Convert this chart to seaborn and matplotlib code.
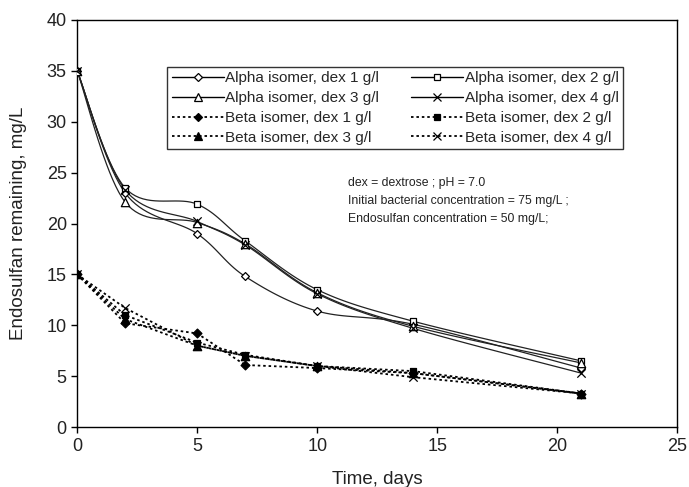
#recreate endosulfan degradation chart (alpha / beta isomer, dextrose levels)
import numpy as np
import pandas as pd
import seaborn as sns
import matplotlib.pyplot as plt
from matplotlib.lines import Line2D

days = [0, 2, 5, 7, 10, 14, 21]

alpha_dex1 = [35, 23.0, 19.0, 14.8, 11.4, 10.1, 5.8]
alpha_dex2 = [35, 23.5, 21.9, 18.3, 13.5, 10.4, 6.5]
alpha_dex3 = [35, 22.1, 20.1, 18.0, 13.2, 9.9, 6.3]
alpha_dex4 = [35, 23.3, 20.2, 17.9, 13.1, 9.7, 5.3]

beta_dex1 = [15, 10.2, 9.2, 6.1, 5.8, 5.3, 3.3]
beta_dex2 = [15, 11.0, 8.3, 7.1, 6.0, 5.5, 3.3]
beta_dex3 = [15, 10.6, 8.0, 7.0, 6.0, 5.3, 3.3]
beta_dex4 = [15, 11.7, 8.0, 7.0, 6.0, 4.9, 3.3]

series = [
    ("Alpha isomer, dex 1 g/l", alpha_dex1),
    ("Alpha isomer, dex 2 g/l", alpha_dex2),
    ("Alpha isomer, dex 3 g/l", alpha_dex3),
    ("Alpha isomer, dex 4 g/l", alpha_dex4),
    ("Beta isomer, dex 1 g/l", beta_dex1),
    ("Beta isomer, dex 2 g/l", beta_dex2),
    ("Beta isomer, dex 3 g/l", beta_dex3),
    ("Beta isomer, dex 4 g/l", beta_dex4),
]

notes = ["dex = dextrose ; pH = 7.0",
         "Initial bacterial concentration = 75 mg/L ;",
         "Endosulfan concentration = 50 mg/L;"]

rows = []
for name, vals in series:
    for d, v in zip(days, vals):
        rows.append({"series": name, "day": d, "value": v})
df = pd.DataFrame(rows)

# marker styles: (marker, facecolor, size)
styles = {
    "Alpha isomer, dex 1 g/l": ("D", "white", 4),
    "Alpha isomer, dex 2 g/l": ("s", "white", 5),
    "Alpha isomer, dex 3 g/l": ("^", "white", 6),
    "Alpha isomer, dex 4 g/l": ("x", "black", 6),
    "Beta isomer, dex 1 g/l": ("D", "black", 4.5),
    "Beta isomer, dex 2 g/l": ("s", "black", 5),
    "Beta isomer, dex 3 g/l": ("^", "black", 6),
    "Beta isomer, dex 4 g/l": ("x", "black", 6),
}
dots = (0, (1.4, 1.6))


def smooth_curve(x, y, n=20):
    # excel-like smoothed line (catmull-rom through the points), only for drawing
    p = np.column_stack([x, y]).astype(float)
    p = np.vstack([p[0], p, p[-1]])
    out = []
    for i in range(1, len(p) - 2):
        p0, p1, p2, p3 = p[i - 1], p[i], p[i + 1], p[i + 2]
        t = np.linspace(0, 1, n)[:, None]
        seg = 0.5 * ((2 * p1) + (-p0 + p2) * t + (2 * p0 - 5 * p1 + 4 * p2 - p3) * t**2
                     + (-p0 + 3 * p1 - 3 * p2 + p3) * t**3)
        out.append(seg)
    out = np.vstack(out)
    return out[:, 0], out[:, 1]


sns.set_style("ticks")
plt.rcParams["font.family"] = ["Liberation Sans", "DejaVu Sans"]

fig, ax = plt.subplots(figsize=(6.89, 4.87), dpi=100)
fig.subplots_adjust(left=0.112, right=0.983, top=0.959, bottom=0.123)

handles = {}
for name, vals in series:
    sub = df[df["series"] == name]
    marker, face, ms = styles[name]
    if name.startswith("Alpha"):
        sx, sy = smooth_curve(sub["day"].values, sub["value"].values)
        ax.plot(sx, sy, color="#222222", lw=0.9, zorder=2)
        ls = "-"
    else:
        sns.lineplot(data=sub, x="day", y="value", ax=ax, color="black", lw=1.3,
                     linestyle=dots, zorder=2, legend=False)
        ls = dots
    sns.scatterplot(data=sub, x="day", y="value", ax=ax, marker=marker, s=ms**2,
                    color=face, edgecolor="black", linewidth=0.9, zorder=3, legend=False)
    handles[name] = Line2D([], [], color="black", lw=1.0 if ls == "-" else 1.3, linestyle=ls,
                           marker=marker, markersize=ms, markerfacecolor=face,
                           markeredgecolor="black", markeredgewidth=0.9)

order = [0, 2, 4, 6, 1, 3, 5, 7]
names = [series[i][0] for i in order]
leg = ax.legend([handles[n] for n in names], names, ncol=2, loc="upper left",
                bbox_to_anchor=(0.15, 0.885), fontsize=11, frameon=True, fancybox=False,
                edgecolor="black", handlelength=3.4, handletextpad=0.1, columnspacing=2.1,
                labelspacing=0.38, borderpad=0.3, borderaxespad=0)
leg.get_frame().set_linewidth(1.0)

for i, line in enumerate(notes):
    ax.text(0.452, 0.600 - i * 0.044, line, transform=ax.transAxes, fontsize=8.8,
            va="center", color="#222222")

ax.set_xlim(0, 25)
ax.set_ylim(0, 40)
ax.set_xticks(range(0, 26, 5))
ax.set_yticks(range(0, 41, 5))
ax.tick_params(labelsize=13, direction="out", length=4, width=1, color="black",
               labelcolor="#222222")
ax.set_xlabel("Time, days", fontsize=13.5, color="#222222", labelpad=12)
ax.set_ylabel("Endosulfan remaining, mg/L", fontsize=13.5, color="#222222", labelpad=14)
for sp in ax.spines.values():
    sp.set_visible(True)
    sp.set_color("black")
    sp.set_linewidth(1.0)

plt.savefig("out.png", dpi=100)
